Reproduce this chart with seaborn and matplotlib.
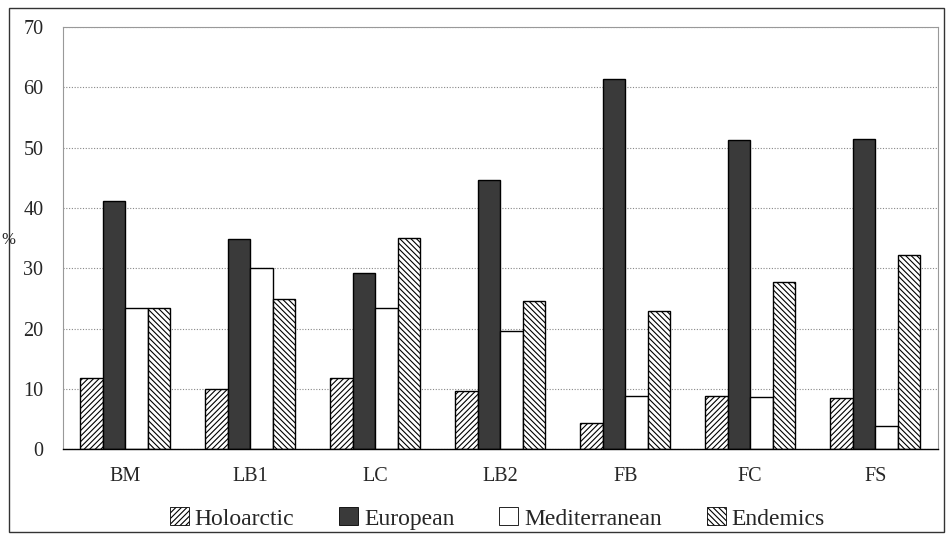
import pandas as pd
import matplotlib.pyplot as plt
import seaborn as sns
from matplotlib.patches import Patch, Rectangle

sites = ["BM", "LB1", "LC", "LB2", "FB", "FC", "FS"]
holoarctic = [11.8, 10.0, 11.8, 9.7, 4.3, 8.8, 8.5]
european = [41.1, 34.8, 29.2, 44.6, 61.3, 51.2, 51.4]
mediterranean = [23.4, 30.0, 23.4, 19.6, 8.8, 8.6, 3.8]
endemics = [23.4, 24.9, 35.0, 24.5, 23.0, 27.7, 32.2]

groups = ["Holoarctic", "European", "Mediterranean", "Endemics"]
df = pd.DataFrame({"site": sites, "Holoarctic": holoarctic, "European": european,
                   "Mediterranean": mediterranean, "Endemics": endemics})
long = df.melt(id_vars="site", var_name="group", value_name="pct")

sns.set_style("white")
plt.rcParams['font.family'] = ['Liberation Serif', 'DejaVu Serif']
plt.rcParams['hatch.linewidth'] = 0.8

fig = plt.figure(figsize=(9.51, 5.40), dpi=100)
ax = fig.add_axes([0.066, 0.168, 0.920, 0.782])

sns.barplot(data=long, x="site", y="pct", hue="group", hue_order=groups,
            order=sites, width=0.72, ax=ax, legend=False,
            edgecolor="black", linewidth=1.0, gap=0)

styles = {
    "Holoarctic": dict(facecolor="white", hatch="//////"),
    "European": dict(facecolor="#3a3a3a", hatch=None),
    "Mediterranean": dict(facecolor="white", hatch=None),
    "Endemics": dict(facecolor="white", hatch="\\\\\\\\\\\\"),
}
for cont, g in zip(ax.containers, groups):
    for bar in cont:
        bar.set_facecolor(styles[g]["facecolor"])
        bar.set_hatch(styles[g]["hatch"])
        bar.set_edgecolor("black")

ax.set_ylim(0, 70)
ax.set_yticks(range(0, 71, 10))
ax.yaxis.grid(True, linestyle=(0, (1, 1.5)), color="#888888", linewidth=0.8)
ax.set_axisbelow(True)
ax.set_xlabel("")
ax.set_ylabel("")
ax.tick_params(axis="both", labelsize=14.5, length=0)
ax.tick_params(axis="x", pad=13)
ax.tick_params(axis="y", pad=14)
for side in ["left", "top", "right"]:
    ax.spines[side].set_color("#999999")
    ax.spines[side].set_linewidth(0.8)
ax.spines["bottom"].set_color("black")
ax.spines["bottom"].set_linewidth(1.0)

fig.text(0.001, 0.555, "%", fontsize=12, va="center")

handles = [Patch(facecolor=styles[g]["facecolor"], hatch=styles[g]["hatch"],
                 edgecolor="black", linewidth=0.6) for g in groups]
fig.legend(handles, groups, loc="lower center", bbox_to_anchor=(0.523, -0.02),
           ncol=4, frameon=False, fontsize=17, handlelength=0.8,
           handleheight=0.8, handletextpad=0.25, columnspacing=1.9)

fig.patches.append(Rectangle((0.009, 0.015), 0.984, 0.97, transform=fig.transFigure,
                             fill=False, edgecolor="#333333", linewidth=1.0))

fig.savefig("out.png", dpi=100)
